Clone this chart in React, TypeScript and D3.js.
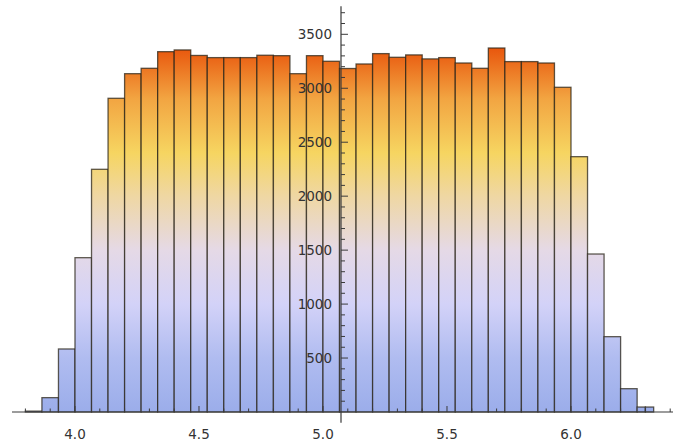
import React from "react";
import * as d3 from "d3";

// Histogram counts, bins of width 1/15 starting at 3.8 (last bin split in two halves)
const binStartValue = 3.8;
const binWidthValue = 1 / 15;
const counts = [
  8, 133, 584, 1430, 2249, 2907, 3135, 3185, 3339, 3355, 3304, 3284, 3284, 3284,
  3306, 3302, 3135, 3302, 3250, 3183, 3225, 3321, 3287, 3309, 3272, 3284, 3234,
  3185, 3373, 3247, 3247, 3234, 3009, 2366, 1464, 698, 216,
];
const tailCounts = [46, 46]; // two half-width bins at the right end

const xMajorTicks = [4.0, 4.5, 5.0, 5.5, 6.0];
const xTickLabels = ["4.0", "4.5", "5.0", "5.5", "6.0"];
const yMajorTicks = [500, 1000, 1500, 2000, 2500, 3000, 3500];
const yTickLabels = ["500", "1000", "1500", "2000", "2500", "3000", "3500"];

const colorStopValues = [0, 500, 1000, 1500, 2000, 2400, 2900, 3400];
const colorStopColors = [
  "#9badea", "#b0bcf0", "#d3d2f8", "#e5d9e6", "#efd7a3", "#f6d561", "#f2a542", "#e8520a",
];

const W = 673;
const H = 443;

export default function App() {
  const x = d3.scaleLinear().domain([3.746, 6.4113]).range([12, 673]);
  const y = d3.scaleLinear().domain([0, 3500]).range([412, 34.3]);
  const originX = 5.0726;

  type Bin = { x0: number; x1: number; v: number };
  const bins: Bin[] = counts.map((v, i) => ({
    x0: binStartValue + i * binWidthValue,
    x1: binStartValue + (i + 1) * binWidthValue,
    v,
  }));
  const lastEnd = binStartValue + counts.length * binWidthValue;
  tailCounts.forEach((v, i) => {
    const hw = binWidthValue / tailCounts.length;
    bins.push({ x0: lastEnd + i * hw, x1: lastEnd + (i + 1) * hw, v });
  });

  const xMinor = d3.range(38, 65).map((i) => i / 10).filter((t) => !xMajorTicks.some((m) => Math.abs(m - t) < 1e-6));
  const yMinor = d3.range(1, 38).map((i) => i * 100).filter((t) => t % 500 !== 0);

  const maxStop = colorStopValues[colorStopValues.length - 1];
  const axisColor = "#3a3a3a";
  const font = "'DejaVu Sans', sans-serif";

  return (
    <svg width={W} height={H} style={{ position: "absolute", left: 0, top: 0, background: "#fff" }}>
      <defs>
        <linearGradient id="barGrad" gradientUnits="userSpaceOnUse" x1={0} y1={y(0)} x2={0} y2={y(maxStop)}>
          {colorStopValues.map((v, i) => (
            <stop key={i} offset={v / maxStop} stopColor={colorStopColors[i]} />
          ))}
        </linearGradient>
      </defs>
      <g>
        {bins.map((b, i) => (
          <rect
            key={i}
            x={x(b.x0)}
            y={y(b.v)}
            width={x(b.x1) - x(b.x0)}
            height={y(0) - y(b.v)}
            fill="url(#barGrad)"
            stroke="#2a2418"
            strokeOpacity={0.75}
            strokeWidth={1.3}
          />
        ))}
      </g>
      {/* x axis */}
      <line x1={12} x2={673} y1={y(0)} y2={y(0)} stroke={axisColor} strokeWidth={1.2} />
      {xMinor.map((t, i) => (
        <line key={"xm" + i} x1={x(t)} x2={x(t)} y1={y(0)} y2={y(0) - 3.5} stroke={axisColor} strokeWidth={1} />
      ))}
      {xMajorTicks.map((t, i) => (
        <line key={"xM" + i} x1={x(t)} x2={x(t)} y1={y(0)} y2={y(0) - 6} stroke={axisColor} strokeWidth={1} />
      ))}
      {xMajorTicks.map((t, i) => (
        <text key={"xl" + i} x={x(t)} y={439} textAnchor="middle" fontFamily={font} fontSize={13.5} fill="#333">
          {xTickLabels[i]}
        </text>
      ))}
      {/* y axis */}
      <line x1={x(originX)} x2={x(originX)} y1={y(3760)} y2={y(-100)} stroke={axisColor} strokeWidth={1.2} />
      {yMinor.map((t, i) => (
        <line key={"ym" + i} x1={x(originX)} x2={x(originX) + 4} y1={y(t)} y2={y(t)} stroke={axisColor} strokeWidth={1} />
      ))}
      {yMajorTicks.map((t, i) => (
        <line key={"yM" + i} x1={x(originX)} x2={x(originX) + 7} y1={y(t)} y2={y(t)} stroke={axisColor} strokeWidth={1} />
      ))}
      {yMajorTicks.map((t, i) => (
        <text key={"yl" + i} x={x(originX) - 9} y={y(t)} dy="0.36em" textAnchor="end" fontFamily={font} fontSize={13.5} fill="#333">
          {yTickLabels[i]}
        </text>
      ))}
    </svg>
  );
}
